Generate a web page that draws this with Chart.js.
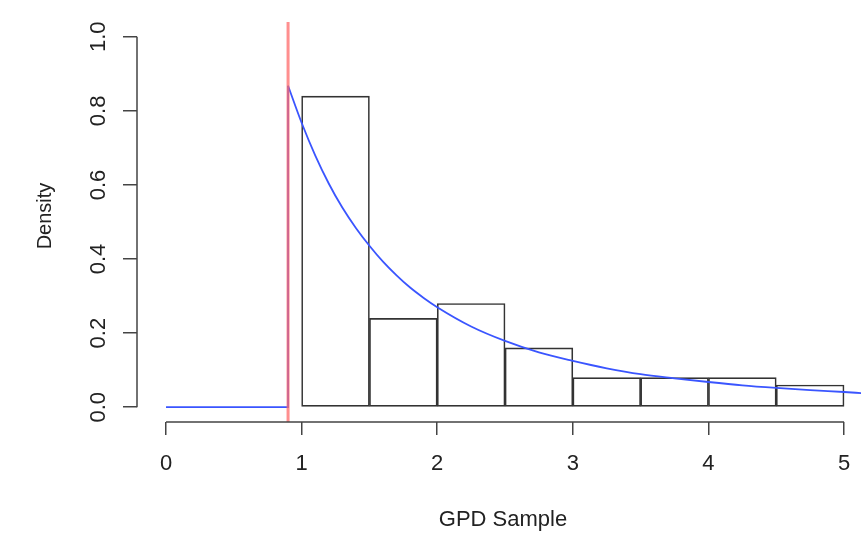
<!DOCTYPE html>
<html>
<head>
<meta charset="utf-8">
<script src="https://cdn.jsdelivr.net/npm/chart.js@4.4.1/dist/chart.umd.min.js"></script>
<style>
  html, body { margin: 0; padding: 0; background: #fff; }
  canvas { display: block; }
</style>
</head>
<body>
<canvas id="myChart" width="861" height="536"></canvas>
<script>
// histogram bins (width 0.5) and their densities
const binStarts = [1.0, 1.5, 2.0, 2.5, 3.0, 3.5, 4.0, 4.5];
const binDensity = [0.84, 0.24, 0.28, 0.16, 0.08, 0.08, 0.08, 0.06];
const binWidth = 0.5;

// fitted density curve
const curveX = [0.9, 1.0, 1.1, 1.2, 1.3, 1.4, 1.5, 1.6, 1.7, 1.8, 1.9, 2.0, 2.25, 2.5, 2.75, 3.0, 3.25, 3.5, 3.75, 4.0, 4.25, 4.5, 4.75, 5.0, 5.13];
const curveY = [0.868, 0.768, 0.680, 0.604, 0.539, 0.484, 0.436, 0.393, 0.356, 0.323, 0.295, 0.270, 0.218, 0.179, 0.148, 0.125, 0.105, 0.089, 0.078, 0.068, 0.059, 0.052, 0.046, 0.041, 0.038];

// zero part of the density left of the threshold
const flatX = [0, 0.9, 0.9];
const flatY = [0, 0, 0.868];

const threshold = 0.9;

const xTicks = [0, 1, 2, 3, 4, 5];
const yTicks = [0, 0.2, 0.4, 0.6, 0.8, 1.0];

const xTitle = 'GPD Sample';
const yTitle = 'Density';

const fontFamily = '"Liberation Sans", Arial, Helvetica, sans-serif';
const axisColor = '#444';
const textColor = '#222';

// R-style axes: lines from first to last tick, rotated y labels, titles
const rAxes = {
    id: 'rAxes',
    afterDraw(chart) {
        const { ctx, chartArea } = chart;
        const x = chart.scales.x;
        const y = chart.scales.y;
        ctx.save();
        ctx.strokeStyle = axisColor;
        ctx.lineWidth = 1.5;
        ctx.beginPath();
        ctx.moveTo(x.getPixelForValue(xTicks[0]), chartArea.bottom);
        ctx.lineTo(x.getPixelForValue(xTicks[xTicks.length - 1]), chartArea.bottom);
        ctx.moveTo(chartArea.left, y.getPixelForValue(yTicks[0]));
        ctx.lineTo(chartArea.left, y.getPixelForValue(yTicks[yTicks.length - 1]));
        ctx.stroke();

        ctx.fillStyle = textColor;
        ctx.font = '22px ' + fontFamily;
        ctx.textAlign = 'center';
        ctx.textBaseline = 'alphabetic';
        yTicks.forEach(v => {
            ctx.save();
            ctx.translate(chartArea.left - 32, y.getPixelForValue(v));
            ctx.rotate(-Math.PI / 2);
            ctx.fillText(v.toFixed(1), 0, 0);
            ctx.restore();
        });

        ctx.fillText(xTitle, 503, 526);

        ctx.font = '20px ' + fontFamily;
        ctx.save();
        ctx.translate(51, 216);
        ctx.rotate(-Math.PI / 2);
        ctx.fillText(yTitle, 0, 0);
        ctx.restore();
        ctx.restore();
    }
};

const ctx = document.getElementById('myChart').getContext('2d');
const myChart = new Chart(ctx, {
    type: 'line',
    data: {
        datasets: [{
            label: 'threshold',
            data: [{ x: threshold, y: -0.04 }, { x: threshold, y: 1.04 }],
            borderColor: 'rgba(255, 105, 105, 0.75)',
            borderWidth: 3,
            pointRadius: 0,
            order: 0
        }, {
            label: 'density',
            data: curveX.map((v, i) => ({ x: v, y: curveY[i] })),
            borderColor: '#3a55ff',
            borderWidth: 1.8,
            pointRadius: 0,
            cubicInterpolationMode: 'monotone',
            order: 1
        }, {
            label: 'zero',
            data: flatX.map((v, i) => ({ x: v, y: flatY[i] })),
            borderColor: '#3a55ff',
            borderWidth: 1.8,
            pointRadius: 0,
            order: 2
        }, {
            type: 'bar',
            label: 'hist',
            data: binStarts.map((v, i) => ({ x: v + binWidth / 2, y: binDensity[i] })),
            backgroundColor: 'rgba(0,0,0,0)',
            borderColor: '#333',
            borderWidth: 1,
            borderSkipped: false,
            barPercentage: 1,
            categoryPercentage: 1,
            order: 3
        }]
    },
    options: {
        responsive: false,
        animation: false,
        layout: { padding: { top: 22, left: 0, right: 0, bottom: 0 } },
        plugins: {
            legend: { display: false },
            tooltip: { enabled: false }
        },
        scales: {
            x: {
                type: 'linear',
                min: -0.214,
                max: 5.125,
                offset: false,
                afterFit: s => {
                    s.height = 114;
                    s.paddingLeft = 0;
                    s.paddingRight = 0;
                },
                afterBuildTicks: s => { s.ticks = xTicks.map(v => ({ value: v })); },
                ticks: {
                    includeBounds: false,
                    stepSize: 1,
                    color: textColor,
                    font: { family: fontFamily, size: 22 },
                    padding: 16,
                    maxRotation: 0
                },
                grid: {
                    offset: false,
                    drawOnChartArea: false,
                    tickLength: 13,
                    color: axisColor,
                    lineWidth: 1.5
                },
                border: { display: false }
            },
            y: {
                type: 'linear',
                min: -0.04,
                max: 1.04,
                afterFit: s => {
                    s.width = 137;
                    s.paddingTop = 0;
                    s.paddingBottom = 0;
                },
                afterBuildTicks: s => { s.ticks = yTicks.map(v => ({ value: v })); },
                ticks: { display: false },
                grid: {
                    drawOnChartArea: false,
                    tickLength: 14,
                    color: axisColor,
                    lineWidth: 1.5
                },
                border: { display: false }
            }
        }
    },
    plugins: [rAxes]
});
</script>
</body>
</html>
